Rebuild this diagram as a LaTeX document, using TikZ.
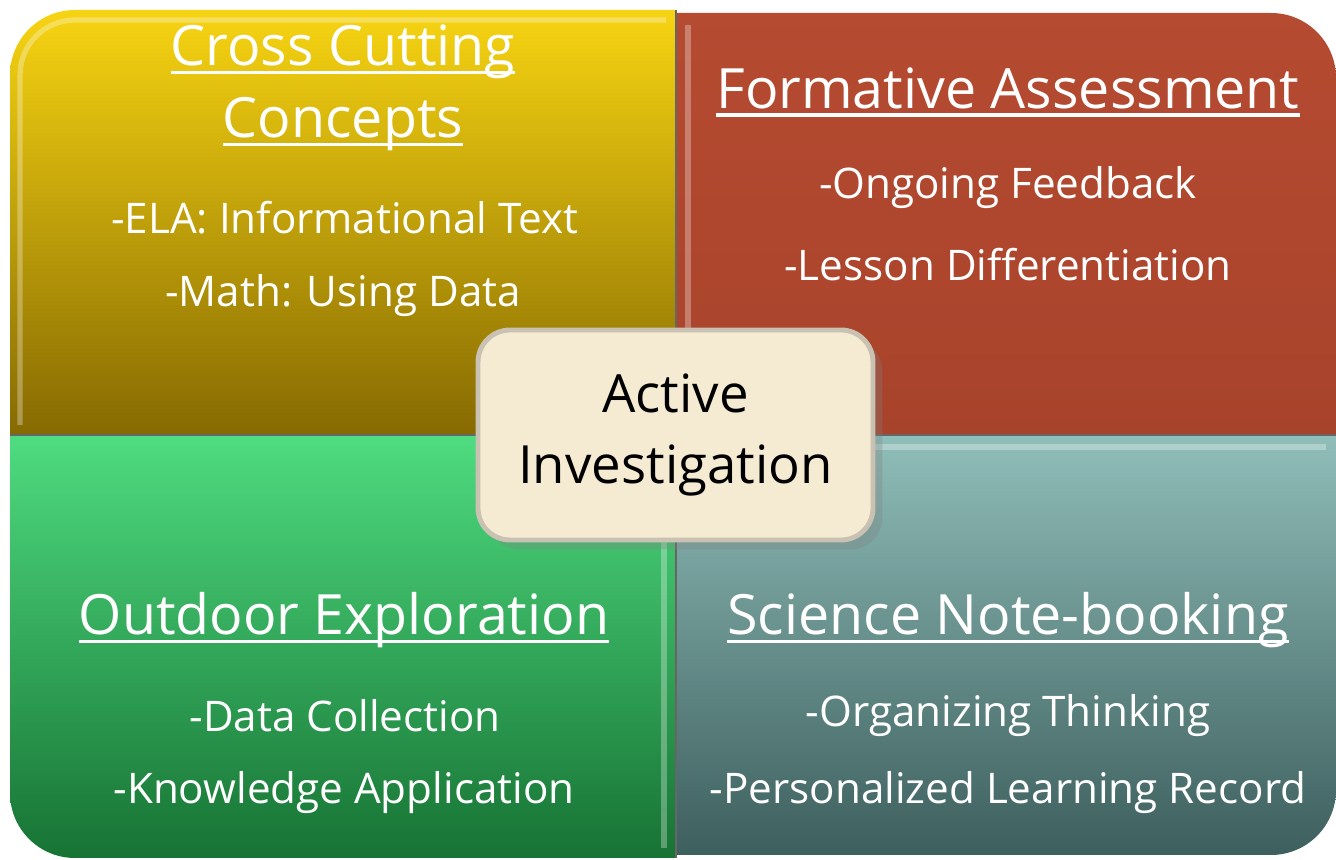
\documentclass[tikz,border=0pt]{standalone}
\usepackage{fontspec}
\setmainfont{Open Sans}
\usetikzlibrary{shadows}

\definecolor{yelA}{HTML}{F7D412}
\definecolor{yelB}{HTML}{866A02}
\definecolor{redA}{HTML}{B54B31}
\definecolor{redB}{HTML}{A8432B}
\definecolor{grnA}{HTML}{4FDC80}
\definecolor{grnB}{HTML}{177334}
\definecolor{tealA}{HTML}{90BEB9}
\definecolor{tealB}{HTML}{3D5F5E}
\definecolor{hubfill}{HTML}{F5EBD2}
\definecolor{hubline}{HTML}{C9C1B1}

% white underline under a title line
\newcommand{\ulin}[1]{\setbox0\hbox{#1}\rlap{\rule[-0.15em]{\wd0}{0.055em}}\box0}

\tikzset{
  ttl/.style={text=white, font=\fontsize{15.8}{20}\selectfont, align=center},
  itm/.style={text=white, font=\fontsize{12}{14}\selectfont},
  hub/.style={draw=hubline, line width=1.4pt, fill=hubfill, rounded corners=0.32cm,
    minimum width=3.95cm, minimum height=2.1cm, align=center,
    font=\fontsize{15}{20}\selectfont, drop shadow={opacity=0.3}},
  seam/.style={black!60, line width=0.6pt},
  bevel/.style={white, opacity=0.3, line width=1.5pt}
}

\begin{document}
\begin{tikzpicture}
\useasboundingbox (0,0) rectangle (13.36,8.60);

\shade[top color=yelA, bottom color=yelB] (0.10,4.25) -- (0.10,7.85) arc (180:90:0.65) -- (6.76,8.50) -- (6.76,4.25) -- cycle; % cross cutting
\shade[top color=redA, bottom color=redB] (6.76,4.25) -- (6.76,8.47) -- (12.71,8.47) arc (90:0:0.65) -- (13.36,4.25) -- cycle; % formative
\shade[top color=grnA, bottom color=grnB] (0.10,4.25) -- (6.76,4.25) -- (6.76,0.02) -- (0.75,0.02) arc (270:180:0.65) -- cycle; % outdoor
\shade[top color=tealA, bottom color=tealB] (6.76,4.25) -- (13.36,4.25) -- (13.36,0.70) arc (0:-90:0.65) -- (6.76,0.05) -- cycle; % notebook

% bevel highlights
\draw[bevel] (0.20,4.35) -- (0.20,7.85) arc (180:90:0.55) -- (6.66,8.40);
\draw[bevel] (6.88,4.35) -- (6.88,8.35);
\draw[bevel] (6.64,0.12) -- (6.64,4.15);
\draw[bevel] (6.86,4.13) -- (13.26,4.13);

\draw[seam] (6.76,8.50) -- (6.76,0.02);
\draw[seam] (0.10,4.25) -- (13.36,4.25);

\node[ttl] (cctA) at (3.43,8.08) {\ulin{Cross Cutting}};
\node[ttl] (cctB) at (3.43,7.36) {\ulin{Concepts}};
\node[itm] (ela)  at (3.45,6.42) {-ELA: Informational Text};
\node[itm] (math) at (3.43,5.64) {-Math: Using Data};

\node[ttl] (fa)   at (10.08,7.68) {\ulin{Formative Assessment}};
\node[itm] (feed) at (10.08,6.72) {-Ongoing Feedback};
\node[itm] (diff) at (10.08,5.95) {-Lesson Differentiation};

\node[ttl] (oe)   at (3.44,2.40) {\ulin{Outdoor Exploration}};
\node[itm] (data) at (3.45,1.44) {-Data Collection};
\node[itm] (know) at (3.44,0.67) {-Knowledge Application};

\node[ttl] (snb)  at (10.08,2.40) {\ulin{Science Note-booking}};
\node[itm] (org)  at (10.08,1.44) {-Organizing Thinking};
\node[itm] (rec)  at (10.08,0.67) {-Personalized Learning Record};

\node[hub] (hub) at (6.755,4.25) {Active\\Investigation};
\end{tikzpicture}
\end{document}
